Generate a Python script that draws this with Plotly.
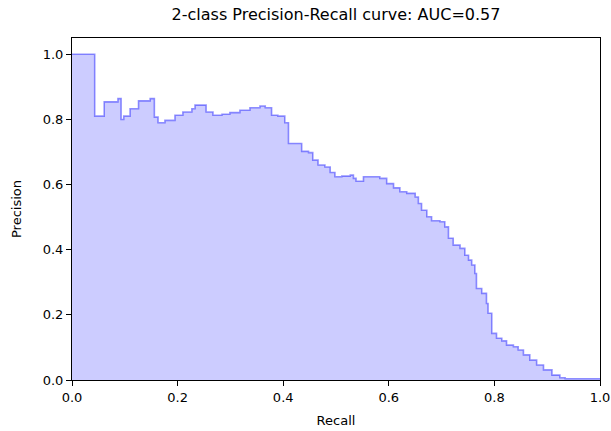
import plotly.graph_objects as go

recall = [0.0, 0.043, 0.061, 0.087, 0.093, 0.098, 0.110, 0.126, 0.148, 0.156, 0.163, 0.176,
          0.195, 0.210, 0.227, 0.233, 0.254, 0.267, 0.284, 0.299, 0.318, 0.337, 0.356, 0.366,
          0.378, 0.390, 0.403, 0.410, 0.435, 0.448, 0.456, 0.466, 0.479, 0.489, 0.498, 0.511,
          0.527, 0.533, 0.538, 0.552, 0.583, 0.596, 0.609, 0.621, 0.634, 0.650, 0.656, 0.662,
          0.672, 0.681, 0.697, 0.706, 0.713, 0.722, 0.735, 0.744, 0.751, 0.757, 0.763, 0.766,
          0.776, 0.785, 0.788, 0.795, 0.804, 0.814, 0.823, 0.836, 0.845, 0.855, 0.867, 0.880,
          0.893, 0.909, 0.924, 0.934, 1.0]
precision = [1.0, 0.81, 0.854, 0.864, 0.80, 0.81, 0.833, 0.857, 0.864, 0.807, 0.79, 0.797,
             0.813, 0.823, 0.833, 0.844, 0.823, 0.813, 0.816, 0.821, 0.828, 0.836, 0.841, 0.836,
             0.813, 0.81, 0.79, 0.726, 0.702, 0.698, 0.675, 0.66, 0.654, 0.637, 0.624, 0.626,
             0.629, 0.619, 0.61, 0.624, 0.619, 0.603, 0.59, 0.578, 0.573, 0.562, 0.542, 0.521,
             0.501, 0.489, 0.486, 0.470, 0.435, 0.414, 0.404, 0.383, 0.368, 0.353, 0.327, 0.281,
             0.266, 0.235, 0.205, 0.143, 0.128, 0.120, 0.107, 0.102, 0.092, 0.077, 0.061, 0.046,
             0.031, 0.015, 0.007, 0.004, 0.003]

x_ticks = [0.0, 0.2, 0.4, 0.6, 0.8, 1.0]
y_ticks = [0.0, 0.2, 0.4, 0.6, 0.8, 1.0]
title_text = "2-class Precision-Recall curve: AUC=0.57"

fig = go.Figure()
fig.add_trace(go.Scatter(
    x=recall, y=precision, mode="lines",
    line=dict(shape="hv", color="rgba(0,0,255,0.42)", width=1.6),
    fill="tozeroy", fillcolor="rgba(0,0,255,0.2)",
    showlegend=False, hoverinfo="skip",
))

font_family = "DejaVu Sans"
fig.update_layout(
    width=611, height=431,
    margin=dict(l=72, r=11, t=38, b=51, autoexpand=False),
    paper_bgcolor="white", plot_bgcolor="white",
    font=dict(family=font_family, size=13, color="black"),
    title=dict(text=title_text, x=(72 + 600) / 2 / 611, xanchor="center",
               yref="container", y=1 - 14 / 431, yanchor="middle",
               font=dict(size=16, family=font_family, color="black")),
)
fig.update_xaxes(
    range=[0, 1], tickvals=x_ticks, ticktext=[f"{v:.1f}" for v in x_ticks],
    automargin=False,
    showgrid=False, zeroline=False, showline=True, mirror=True,
    linecolor="black", linewidth=1, ticks="outside", ticklen=5, tickcolor="black",
    title=dict(text="Recall", standoff=12, font=dict(size=13)),
)
fig.update_yaxes(
    range=[0, 1.05], tickvals=y_ticks, ticktext=[f"{v:.1f}" for v in y_ticks],
    automargin=False,
    showgrid=False, zeroline=False, showline=True, mirror=True,
    linecolor="black", linewidth=1, ticks="outside", ticklen=5, tickcolor="black",
    title=dict(text="Precision", standoff=18, font=dict(size=13)),
)

fig.write_html("out.html")
